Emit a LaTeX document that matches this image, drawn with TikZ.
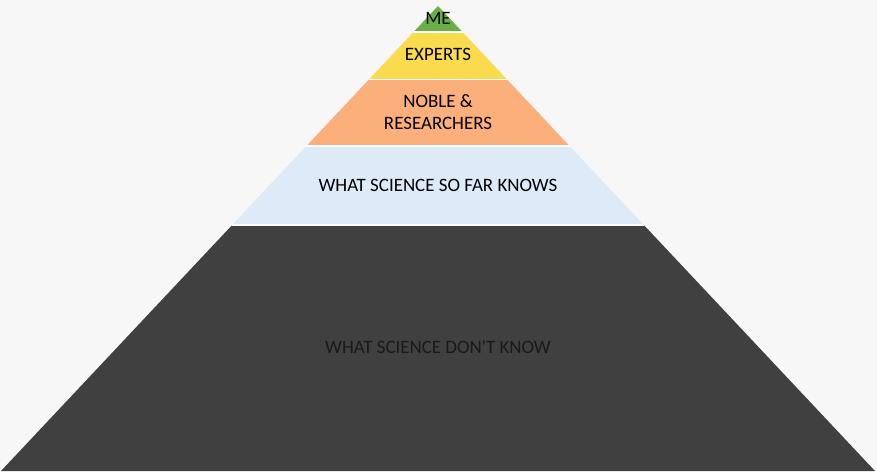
\documentclass[tikz,border=0pt]{standalone}
\usepackage{fontspec}
\newfontfamily\lbl{Carlito}[Ligatures=TeXOff]
\definecolor{bg}{HTML}{F7F7F7}
\definecolor{tierme}{HTML}{6AAF45}
\definecolor{tierexp}{HTML}{FADB4E}
\definecolor{tiernob}{HTML}{FBB07B}
\definecolor{tierknown}{HTML}{DDEAF7}
\definecolor{tierunknown}{HTML}{404040}
\begin{document}
\begin{tikzpicture}[x=0.75pt,y=-0.75pt,
  tierlabel/.style={font=\lbl\fontsize{14.2}{16.5}\selectfont, text=black, align=center, inner sep=0pt},
  gap/.style={draw=white, line width=1.1pt}]
\fill[bg] (0,0) rectangle (877,471);
\useasboundingbox (0,0) rectangle (877,471);
% pyramid outline
\coordinate (apex) at (438,6);
\coordinate (bl) at (1,471);
\coordinate (br) at (875,471);
\begin{scope}
  \clip (apex) -- (bl) -- (br) -- cycle;
  \fill[tierme]      (0,0)     rectangle (877,31.8);
  \fill[tierexp]     (0,31.8)  rectangle (877,79.6);
  \fill[tiernob]     (0,79.6)  rectangle (877,146.2);
  \fill[tierknown]   (0,146.2) rectangle (877,225.2);
  \fill[tierunknown] (0,225.2) rectangle (877,472);
  % thin white separators between tiers
  \draw[gap] (0,31.8) -- (877,31.8);
  \draw[gap] (0,79.6) -- (877,79.6);
  \draw[gap] (0,146.2) -- (877,146.2);
  \draw[gap] (0,225.2) -- (877,225.2);
\end{scope}
% tier labels
\node[tierlabel] (me) at (438,18) {ME};
\node[tierlabel] (experts) at (438,54.5) {EXPERTS};
\node[tierlabel] (noble) at (438,112) {NOBLE \&\\RESEARCHERS};
\node[tierlabel] (known) at (438,185) {WHAT SCIENCE SO FAR KNOWS};
\node[tierlabel, text=black!90] (unknown) at (438,347) {WHAT SCIENCE DON'T KNOW};
\end{tikzpicture}
\end{document}
